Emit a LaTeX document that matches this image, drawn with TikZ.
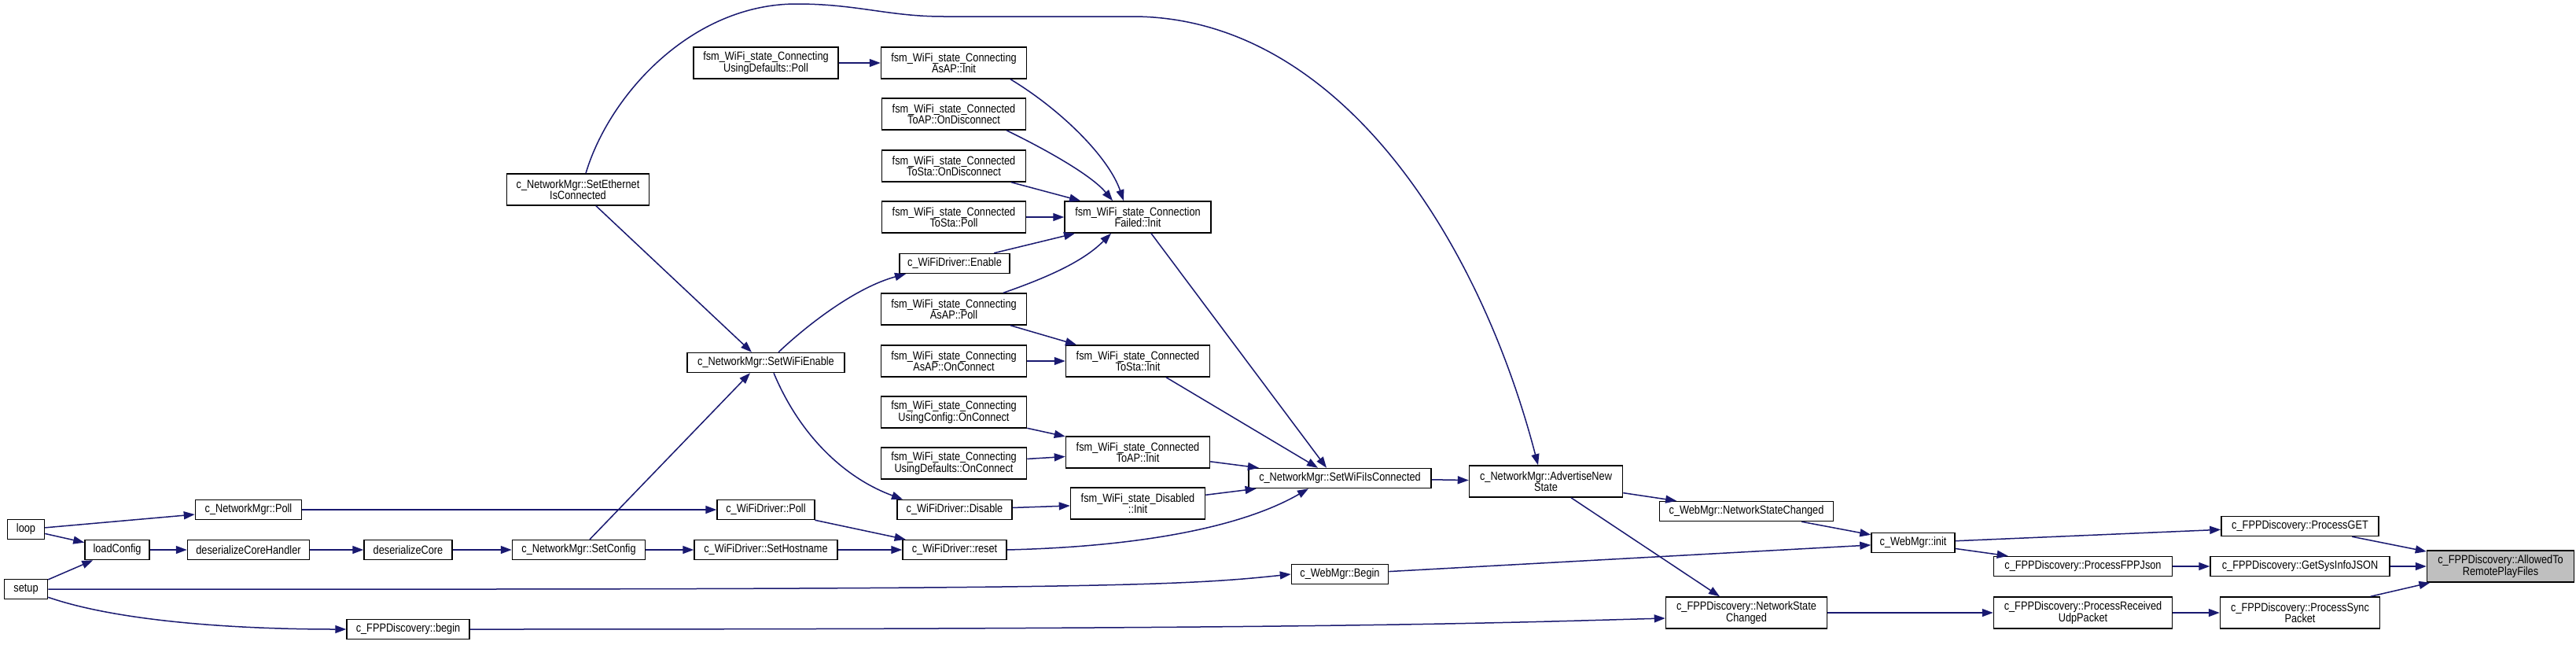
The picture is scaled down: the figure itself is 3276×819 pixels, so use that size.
\documentclass[tikz,border=0pt]{standalone}
\usepackage{fontspec}
\setmainfont{Liberation Sans}[FakeStretch=0.85]
\usetikzlibrary{arrows.meta}
\definecolor{edgeblue}{HTML}{191970}
\definecolor{hlgray}{HTML}{BFBFBF}
\begin{document}
\begin{tikzpicture}[x=1pt,y=-1pt,
  fbox/.style={draw=black,line width=1.5pt,fill=white,inner sep=0pt,align=center,
    font=\fontsize{15}{14.4}\selectfont,minimum height=25pt},
  tbox/.style={fbox,minimum height=40pt},
  call/.style={draw=edgeblue,line width=1.5pt,
    arrows={-{Triangle[length=14pt,width=10pt,fill=edgeblue]}}}
]
\fill[white] (0,0) rectangle (3276,819);
\useasboundingbox (0,0) rectangle (3276,819);

% nodes
\node[fbox,minimum width=47pt] (loop) at (33,673) {loop};
\node[fbox,minimum width=55pt] (setup) at (33,749) {setup};
\node[fbox,minimum width=82pt] (loadcfg) at (149,699) {loadConfig};
\node[fbox,minimum width=135pt] (npoll) at (316,648) {c\_NetworkMgr::Poll};
\node[fbox,minimum width=155pt] (dch) at (316,699) {deserializeCoreHandler};
\node[fbox,minimum width=112pt] (dc) at (519,699) {deserializeCore};
\node[fbox,minimum width=156pt] (fbegin) at (519,800) {c\_FPPDiscovery::begin};
\node[fbox,minimum width=169pt] (setcfg) at (736,699) {c\_NetworkMgr::SetConfig};
\node[tbox,minimum width=181pt] (seteth) at (735,241) {c\_NetworkMgr::SetEthernet\\IsConnected};
\node[fbox,minimum width=200pt] (setwifi) at (974,461) {c\_NetworkMgr::SetWiFiEnable};
\node[fbox,minimum width=124pt] (wpoll) at (974,648) {c\_WiFiDriver::Poll};
\node[fbox,minimum width=182pt] (sethost) at (974,699) {c\_WiFiDriver::SetHostname};
\node[tbox,minimum width=184pt] (cudpoll) at (974,80) {fsm\_WiFi\_state\_Connecting\\UsingDefaults::Poll};
\node[tbox,minimum width=185pt] (caapinit) at (1213,80) {fsm\_WiFi\_state\_Connecting\\AsAP::Init};
\node[tbox,minimum width=183pt] (ctapdis) at (1213,145) {fsm\_WiFi\_state\_Connected\\ToAP::OnDisconnect};
\node[tbox,minimum width=183pt] (ctsdis) at (1213,211) {fsm\_WiFi\_state\_Connected\\ToSta::OnDisconnect};
\node[tbox,minimum width=183pt] (ctspoll) at (1213,276) {fsm\_WiFi\_state\_Connected\\ToSta::Poll};
\node[tbox,minimum width=186pt] (cfinit) at (1447,276) {fsm\_WiFi\_state\_Connection\\Failed::Init};
\node[fbox,minimum width=140pt] (enable) at (1214,335) {c\_WiFiDriver::Enable};
\node[tbox,minimum width=185pt] (caappoll) at (1213,393) {fsm\_WiFi\_state\_Connecting\\AsAP::Poll};
\node[tbox,minimum width=185pt] (caapconn) at (1213,459) {fsm\_WiFi\_state\_Connecting\\AsAP::OnConnect};
\node[tbox,minimum width=183pt] (ctsinit) at (1447,459) {fsm\_WiFi\_state\_Connected\\ToSta::Init};
\node[tbox,minimum width=185pt] (cucconn) at (1213,524) {fsm\_WiFi\_state\_Connecting\\UsingConfig::OnConnect};
\node[tbox,minimum width=185pt] (cudconn) at (1213,589) {fsm\_WiFi\_state\_Connecting\\UsingDefaults::OnConnect};
\node[tbox,minimum width=183pt] (ctapinit) at (1447,575) {fsm\_WiFi\_state\_Connected\\ToAP::Init};
\node[fbox,minimum width=146pt] (disable) at (1214,648) {c\_WiFiDriver::Disable};
\node[tbox,minimum width=171pt] (disinit) at (1447,640) {fsm\_WiFi\_state\_Disabled\\::Init};
\node[fbox,minimum width=132pt] (reset) at (1214,699) {c\_WiFiDriver::reset};
\node[fbox,minimum width=232pt] (setwific) at (1704,608) {c\_NetworkMgr::SetWiFiIsConnected};
\node[tbox,minimum width=195pt] (adv) at (1966,612) {c\_NetworkMgr::AdvertiseNew\\State};
\node[fbox,minimum width=221pt] (wnsc) at (2221,650) {c\_WebMgr::NetworkStateChanged};
\node[fbox,minimum width=123pt] (wbegin) at (1704,730) {c\_WebMgr::Begin};
\node[fbox,minimum width=106pt] (winit) at (2433,690) {c\_WebMgr::init};
\node[tbox,minimum width=205pt] (fnsc) at (2221,779) {c\_FPPDiscovery::NetworkState\\Changed};
\node[fbox,minimum width=200pt] (pget) at (2925,669) {c\_FPPDiscovery::ProcessGET};
\node[fbox,minimum width=227pt] (pfj) at (2649,720) {c\_FPPDiscovery::ProcessFPPJson};
\node[fbox,minimum width=228pt] (gsij) at (2925,720) {c\_FPPDiscovery::GetSysInfoJSON};
\node[tbox,minimum width=187pt,fill=hlgray] (allowed) at (3180,720) {c\_FPPDiscovery::AllowedTo\\RemotePlayFiles};
\node[tbox,minimum width=227pt] (prup) at (2649,779) {c\_FPPDiscovery::ProcessReceived\\UdpPacket};
\node[tbox,minimum width=203pt] (psp) at (2925,779) {c\_FPPDiscovery::ProcessSync\\Packet};

% edges
\draw[call] (loop) -- (npoll);
\draw[call] (loop) -- (loadcfg);
\draw[call] (setup) -- (loadcfg);
\draw[call] (setup.east) .. controls (1400,750) and (1500,745) .. (wbegin.west);
\draw[call] (setup.-20) .. controls (150,790) and (300,800) .. (fbegin.west);
\draw[call] (loadcfg) -- (dch);
\draw[call] (dch) -- (dc);
\draw[call] (dc) -- (setcfg);
\draw[call] (npoll) -- (wpoll);
\draw[call] ([xshift=14pt]setcfg.north) -- ([xshift=-20pt]setwifi.south);
\draw[call] (setcfg) -- (sethost);
\draw[call] ([xshift=23pt]seteth.south) -- ([xshift=-18pt]setwifi.north);
\draw[call] ([xshift=10pt]seteth.north) .. controls (775,120) and (880,5) .. (1013,5)
  .. controls (1090,5) and (1130,21) .. (1200,21) -- (1440,21)
  .. controls (1700,21) and (1880,300) .. ([xshift=-10pt]adv.north);
\draw[call] ([xshift=16pt]setwifi.north) .. controls (1030,410) and (1090,365) .. ([xshift=-62pt]enable.south);
\draw[call] ([xshift=10pt]setwifi.south) .. controls (1020,560) and (1080,610) .. ([xshift=-66pt]disable.north);
\draw[call] (wpoll) -- (reset);
\draw[call] (sethost) -- (reset);
\draw[call] (reset.east) .. controls (1450,695) and (1580,670) .. ([xshift=-40pt]setwific.south);
\draw[call] ([xshift=50pt]enable.north) -- ([xshift=-80pt]cfinit.south);
\draw[call] (cudpoll) -- (caapinit);
\draw[call] ([xshift=72pt]caapinit.south) .. controls (1350,140) and (1410,200) .. ([xshift=-18pt]cfinit.north);
\draw[call] ([xshift=67pt]ctapdis.south) .. controls (1340,195) and (1390,225) .. ([xshift=-32pt]cfinit.north);
\draw[call] ([xshift=73pt]ctsdis.south) -- ([xshift=-73pt]cfinit.north);
\draw[call] (ctspoll) -- (cfinit);
\draw[call] ([xshift=63pt]caappoll.north) .. controls (1340,350) and (1380,330) .. ([xshift=-34pt]cfinit.south);
\draw[call] ([xshift=17pt]cfinit.south) -- ([xshift=-17pt]setwific.north);
\draw[call] ([xshift=72pt]caappoll.south) -- ([xshift=-78pt]ctsinit.north);
\draw[call] (caapconn) -- (ctsinit);
\draw[call] ([xshift=36pt]ctsinit.south) -- ([xshift=-28pt]setwific.north);
\draw[call] (cucconn) -- (ctapinit);
\draw[call] (cudconn) -- (ctapinit);
\draw[call] (ctapinit) -- (setwific);
\draw[call] (disable) -- (disinit);
\draw[call] (disinit) -- (setwific);
\draw[call] (setwific) -- (adv);
\draw[call] (adv) -- (wnsc);
\draw[call] ([xshift=32pt]adv.south) -- ([xshift=-34pt]fnsc.north);
\draw[call] (wnsc) -- (winit);
\draw[call] (wbegin) -- (winit);
\draw[call] (fbegin.east) .. controls (1700,800) and (1900,792) .. ([yshift=-7pt]fnsc.west);
\draw[call] (fnsc) -- (prup);
\draw[call] (winit) -- (pget);
\draw[call] (winit) -- (pfj);
\draw[call] (pfj) -- (gsij);
\draw[call] (prup) -- (psp);
\draw[call] (pget) -- (allowed);
\draw[call] (gsij) -- (allowed);
\draw[call] (psp) -- (allowed);
\end{tikzpicture}
\end{document}
